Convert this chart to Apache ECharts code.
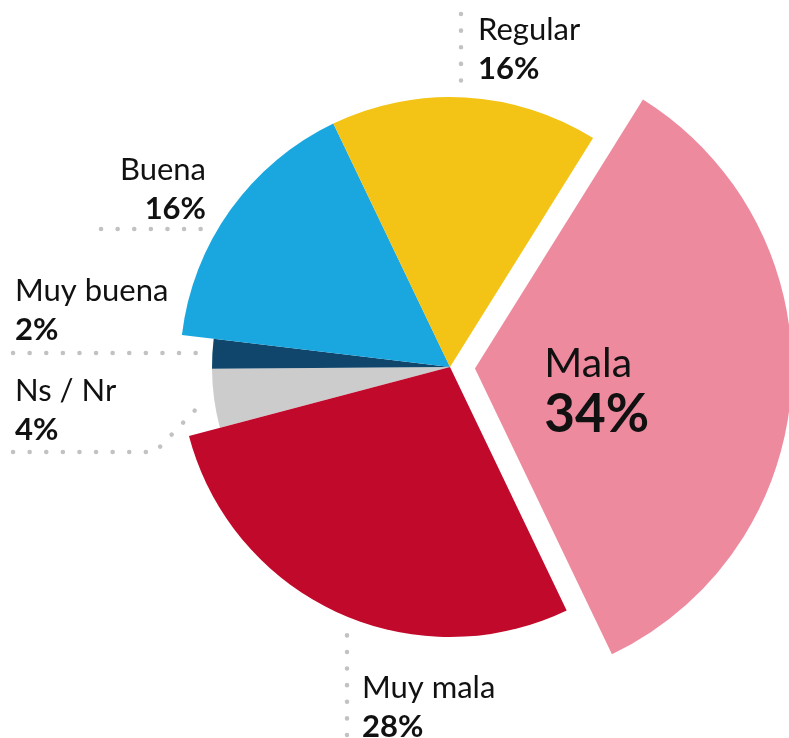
<!DOCTYPE html>
<html>
<head>
<meta charset="utf-8">
<script src="https://cdn.jsdelivr.net/npm/echarts@6/dist/echarts.min.js"></script>
<style>
  html, body { margin: 0; padding: 0; background: #fff; }
  #chart { width: 789px; height: 738px; }
</style>
</head>
<body>
<div id="chart"></div>
<script>
// data, clockwise from the exploded slice
var categories = ["Mala", "Muy mala", "Ns / Nr", "Muy buena", "Buena", "Regular"];
var values = [34, 28, 4, 2, 16, 16];
var colors = ["#EE8A9E", "#C1092B", "#CCCCCC", "#10466B", "#1AA7E0", "#F3C315"];

// which ring (radius) each slice is drawn in
var ring = [2, 1, 0, 0, 1, 1];
var radii = [238, 270, 317];

// label placement (top-left of text block) and dotted leader lines (outer end first)
var labelPos = {
  "Regular":   { x: 478, y: 10,  align: "left",  line: [[461, 14], [461, 97]] },
  "Buena":     { x: 206, y: 150, align: "right", line: [[101, 229], [217, 229]] },
  "Muy buena": { x: 15,  y: 271, align: "left",  line: [[13, 353], [205, 353]] },
  "Ns / Nr":   { x: 15,  y: 371, align: "left",  line: [[13, 452], [155, 452], [202, 403]] },
  "Muy mala":  { x: 362, y: 668, align: "left",  line: [[347, 735], [347, 625]] },
  // inside label: shifted from the default slice-centre spot
  "Mala":      { dx: -92, dy: -38, align: "left" }
};

var font = "Lato, 'Open Sans', sans-serif";

function makeSeries(r) {
  return {
    type: "pie",
    center: [450, 367],
    radius: [0, radii[r]],
    startAngle: 58,
    clockwise: true,
    avoidLabelOverlap: false,
    selectedMode: r === 2 ? "single" : false,
    selectedOffset: 25,
    emphasis: { disabled: true },
    label: {
      show: true,
      color: "#111",
      fontFamily: font,
      formatter: function (p) {
        if (p.name === "Mala") return "{m|" + p.name + "}\n{mv|" + p.value + "%}";
        return "{n|" + p.name + "}\n{v|" + p.value + "%}";
      },
      rich: {
        n: { fontSize: 31, lineHeight: 39, fontFamily: font, color: "#111" },
        v: { fontSize: 31, lineHeight: 39, fontFamily: font, fontWeight: "bold", color: "#111" },
        m: { fontSize: 41, lineHeight: 48, fontFamily: font, color: "#111" },
        mv: { fontSize: 53, lineHeight: 54, fontFamily: font, fontWeight: "bold", color: "#111" }
      }
    },
    labelLine: { show: false },
    labelLayout: function (p) {
      var L = labelPos[categories[p.dataIndex]];
      if (!L) return {};
      if (L.dx != null) return { dx: L.dx, dy: L.dy, align: L.align, verticalAlign: "top" };
      return { x: L.x, y: L.y, align: L.align, verticalAlign: "top" };
    },
    data: categories.map(function (c, i) {
      var on = ring[i] === r;
      return {
        name: c,
        value: values[i],
        selected: on && c === "Mala",
        itemStyle: { color: on ? colors[i] : "rgba(0,0,0,0)" },
        label: { show: on, position: c === "Mala" ? "inside" : "outside" }
      };
    })
  };
}

// dotted leader lines
var leaders = categories.filter(function (c) { return labelPos[c].line; }).map(function (c) {
  return {
    type: "polyline",
    silent: true,
    z: 10,
    shape: { points: labelPos[c].line },
    style: { fill: null, stroke: "#C2C2C2", lineWidth: 4.5, lineDash: [0.1, 16.5], lineCap: "round" }
  };
});

var myChart = echarts.init(document.getElementById("chart"));
myChart.setOption({
  animation: false,
  backgroundColor: "#fff",
  graphic: leaders,
  series: [makeSeries(0), makeSeries(1), makeSeries(2)]
});
</script>
</body>
</html>
